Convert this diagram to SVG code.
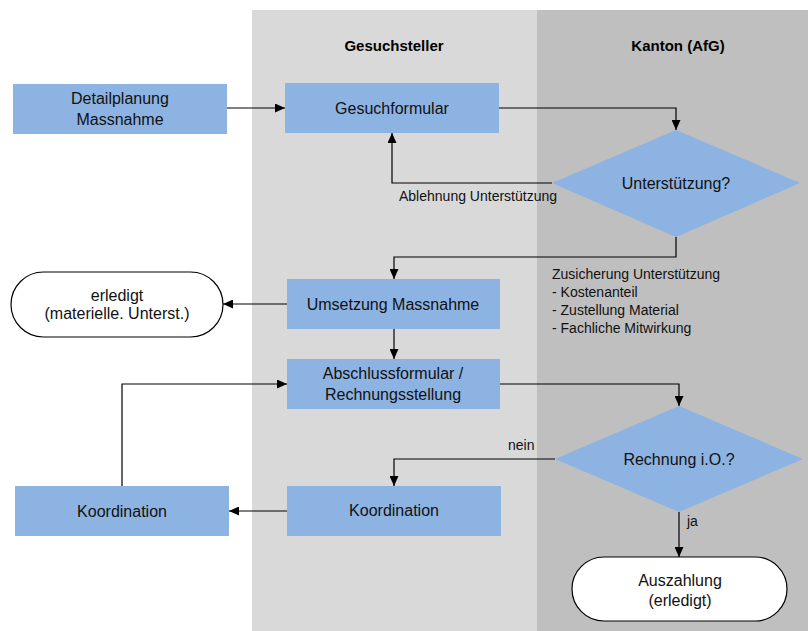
<svg xmlns="http://www.w3.org/2000/svg" width="808" height="631" viewBox="0 0 808 631">
<defs>
<marker id="ah" markerUnits="userSpaceOnUse" markerWidth="11" markerHeight="9" refX="10" refY="4.5" orient="auto">
<path d="M0,0 L10,4.5 L0,9 z" fill="#000"/>
</marker>
<style>
.box{fill:#8DB3E2;}
.term{fill:#fff;stroke:#000;stroke-width:1.2;}
.t{font-family:"Liberation Sans",Arial,sans-serif;font-size:16px;fill:#111;text-anchor:middle;}
.s{font-family:"Liberation Sans",Arial,sans-serif;font-size:14px;fill:#111;}
.h{font-family:"Liberation Sans",Arial,sans-serif;font-size:15px;font-weight:bold;fill:#000;text-anchor:middle;}
.c{fill:none;stroke:#000;stroke-width:1.2;marker-end:url(#ah);}
</style>
</defs>
<rect width="808" height="631" fill="#fff"/>
<g id="lanes">
<rect x="252" y="10" width="285" height="621" fill="#D9D9D9"/>
<rect x="537" y="10" width="271" height="621" fill="#BFBFBF"/>
<text class="h" x="394" y="51">Gesuchsteller</text>
<text class="h" x="678" y="51">Kanton (AfG)</text>
</g>
<g id="connectors">
<path class="c" d="M227,108 L285,108"/>
<path class="c" d="M499,108 L676,108 L676,130"/>
<path class="c" d="M552,183 L392,183 L392,133"/>
<path class="c" d="M676,237 L676,257 L394,257 L394,279"/>
<path class="c" d="M287,304 L223,304"/>
<path class="c" d="M394,329 L394,359"/>
<path class="c" d="M500,384 L679,384 L679,406"/>
<path class="c" d="M555,459 L394,459 L394,486"/>
<path class="c" d="M287,511 L229,511"/>
<path class="c" d="M122,486 L122,384 L287,384"/>
<path class="c" d="M679,512 L679,557"/>
<text class="s" x="399" y="201">Ablehnung Unterstützung</text>
<text class="s" x="552" y="279">Zusicherung Unterstützung</text>
<text class="s" x="552" y="297">- Kostenanteil</text>
<text class="s" x="552" y="315">- Zustellung Material</text>
<text class="s" x="552" y="333">- Fachliche Mitwirkung</text>
<text class="s" x="508" y="450">nein</text>
<text class="s" x="687" y="526">ja</text>
</g>
<g id="detailplanung">
<rect class="box" x="13" y="84" width="214" height="50"/>
<text class="t" x="120" y="104">Detailplanung</text>
<text class="t" x="120" y="125">Massnahme</text>
</g>
<g id="gesuchformular">
<rect class="box" x="285" y="83" width="214" height="50"/>
<text class="t" x="392" y="114">Gesuchformular</text>
</g>
<g id="unterstuetzung">
<polygon class="box" points="676,130 800,183 676,237 552,183"/>
<text class="t" x="676" y="189">Unterstützung?</text>
</g>
<g id="umsetzung">
<rect class="box" x="287" y="279" width="213" height="50"/>
<text class="t" x="393" y="310">Umsetzung Massnahme</text>
</g>
<g id="erledigt">
<rect class="term" x="11" y="272" width="212" height="65" rx="32.5" ry="32.5"/>
<text class="t" x="117" y="301">erledigt</text>
<text class="t" x="117" y="319">(materielle. Unterst.)</text>
</g>
<g id="abschluss">
<rect class="box" x="287" y="359" width="213" height="50"/>
<text class="t" x="393" y="379">Abschlussformular /</text>
<text class="t" x="393" y="400">Rechnungsstellung</text>
</g>
<g id="rechnung">
<polygon class="box" points="679,406 803,459 679,512 555,459"/>
<text class="t" x="679" y="465">Rechnung i.O.?</text>
</g>
<g id="koordination-left">
<rect class="box" x="15" y="486" width="214" height="50"/>
<text class="t" x="122" y="517">Koordination</text>
</g>
<g id="koordination-right">
<rect class="box" x="287" y="486" width="214" height="50"/>
<text class="t" x="394" y="516">Koordination</text>
</g>
<g id="auszahlung">
<rect class="term" x="572" y="557" width="215" height="64" rx="32" ry="32"/>
<text class="t" x="680" y="586">Auszahlung</text>
<text class="t" x="680" y="606">(erledigt)</text>
</g>
</svg>
